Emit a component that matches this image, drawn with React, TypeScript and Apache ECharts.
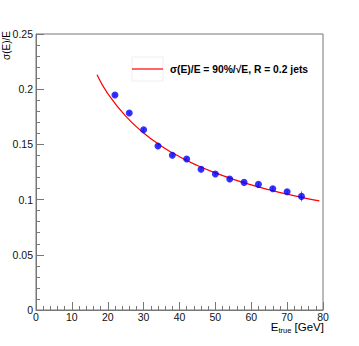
import React, { useEffect, useRef } from "react";
import * as echarts from "echarts";

const energies = [22, 26, 30, 34, 38, 42, 46, 50, 54, 58, 62, 66, 70, 74];
const resolution = [0.1947, 0.1784, 0.1632, 0.1486, 0.1402, 0.1368, 0.1275, 0.1232, 0.1186, 0.1156, 0.1138, 0.1098, 0.1071, 0.1029];
const resolutionErr = [0.0015, 0.0015, 0.0015, 0.0015, 0.0015, 0.0015, 0.0015, 0.0015, 0.0015, 0.0015, 0.0015, 0.002, 0.002, 0.0045];

const fitE = [17, 20, 25, 30, 35, 40, 45, 50, 55, 60, 65, 70, 75, 79];
const fitValues = [0.213, 0.196, 0.1756, 0.1603, 0.1484, 0.1388, 0.1309, 0.1242, 0.1184, 0.1133, 0.1089, 0.1049, 0.1014, 0.0988];

const fitLabel = "σ(E)/E = 90%/√E, R = 0.2 jets";
const yTitle = "σ(E)/E";
const xTitleMain = "E";
const xTitleSub = "true";
const xTitleUnit = " [GeV]";

const FONT = "'Liberation Sans', Arial, Helvetica, sans-serif";

export default function App() {
  const ref = useRef<HTMLDivElement>(null);
  useEffect(() => {
    document.body.style.margin = "0";
    if (!ref.current) return;
    const chart = echarts.init(ref.current, null, { renderer: "svg" });
    const pts = energies.map((e, i) => [e, resolution[i]]);
    const errs = energies.map((e, i) => [e, resolution[i], resolutionErr[i]]);
    const fit = fitE.map((e, i) => [e, fitValues[i]]);
    chart.setOption({
      animation: false,
      backgroundColor: "#fff",
      grid: { left: 36, right: 36, top: 34, bottom: 36, show: true, borderColor: "#777", borderWidth: 1, backgroundColor: "transparent" },
      xAxis: {
        type: "value", min: 0, max: 80, interval: 10,
        axisLine: { show: true, lineStyle: { color: "#777", width: 1 } },
        axisTick: { show: true, inside: true, length: 8, lineStyle: { color: "#777" } },
        minorTick: { show: true, splitNumber: 5, length: 4, lineStyle: { color: "#777" } },
        splitLine: { show: false },
        axisLabel: { fontFamily: FONT, fontSize: 10.5, color: "#111", margin: 1 },
      },
      yAxis: {
        type: "value", min: 0, max: 0.25, interval: 0.05,
        axisLine: { show: true, lineStyle: { color: "#777", width: 1 } },
        axisTick: { show: true, inside: true, length: 8, lineStyle: { color: "#777" } },
        minorTick: { show: true, splitNumber: 5, length: 4, lineStyle: { color: "#777" } },
        splitLine: { show: false },
        axisLabel: { fontFamily: FONT, fontSize: 10.5, color: "#111", margin: 3, formatter: (v: number) => String(parseFloat(v.toFixed(2))) },
      },
      graphic: [
        { type: "rect", shape: { x: 132, y: 57, width: 31, height: 24 }, style: { fill: "none", stroke: "#eee", lineWidth: 1 }, silent: true },
        { type: "line", shape: { x1: 132, y1: 69, x2: 163, y2: 69 }, style: { stroke: "#ff0000", lineWidth: 1.2 }, silent: true },
        {
          type: "text", x: 170, y: 69,
          style: { text: fitLabel, fontFamily: FONT, fontSize: 10.3, fontWeight: "bold", fill: "#000", align: "left", verticalAlign: "middle" },
        },
        {
          type: "text", x: 6, y: 31, rotation: Math.PI / 2,
          style: { text: yTitle, fontFamily: FONT, fontSize: 10, fill: "#000", align: "right", verticalAlign: "middle" },
        },
        {
          type: "text", x: 324, y: 327,
          style: {
            text: `{m|${xTitleMain}}{s|${xTitleSub}}{m|${xTitleUnit}}`,
            align: "right", verticalAlign: "middle",
            rich: {
              m: { fontFamily: FONT, fontSize: 11.5, fill: "#000" },
              s: { fontFamily: FONT, fontSize: 7.5, fill: "#000", padding: [7, 0, 0, 0] },
            },
          },
        },
      ],
      series: [
        {
          type: "custom", name: "err", data: errs, z: 2,
          renderItem: (params: any, api: any) => {
            const x = api.value(0), y = api.value(1), e = api.value(2);
            const p1 = api.coord([x, y - e]);
            const p2 = api.coord([x, y + e]);
            return { type: "line", shape: { x1: p1[0], y1: p1[1], x2: p2[0], y2: p2[1] }, style: { stroke: "#777", lineWidth: 1 } };
          },
        },
        {
          type: "line", name: fitLabel, data: fit, smooth: true, symbol: "none", z: 3,
          lineStyle: { color: "#ff0000", width: 1.2 }, itemStyle: { color: "#ff0000" },
        },
        {
          type: "scatter", name: "data", data: pts, symbol: "circle", symbolSize: 7, z: 4,
          itemStyle: { color: "#0000ff" },
        },
      ],
    });
    return () => chart.dispose();
  }, []);
  return <div ref={ref} style={{ width: 359, height: 346 }} />;
}
